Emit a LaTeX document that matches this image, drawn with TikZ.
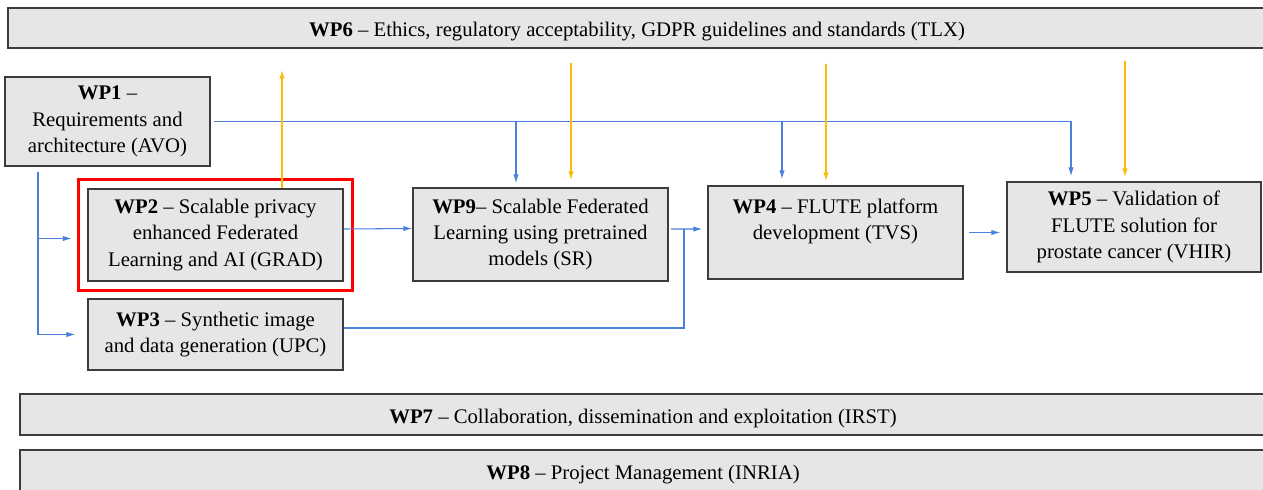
\documentclass[tikz,border=0pt]{standalone}
\usepackage{fontspec}
\setmainfont{Liberation Serif}
\usetikzlibrary{arrows.meta,fit}

\definecolor{boxgray}{RGB}{230,230,230}
\definecolor{boxline}{RGB}{60,60,60}
\definecolor{flowblue}{RGB}{74,128,220}
\definecolor{ethicsyellow}{RGB}{251,188,4}

\tikzset{
  wpbox/.style={draw=boxline,line width=0.9pt,fill=boxgray,align=center,
    inner sep=2pt,font=\fontsize{11.8}{15}\selectfont,
    execute at begin node={\rule{0pt}{12.5pt}}},
  flow/.style={draw=flowblue,line width=0.6pt,-{Latex[length=5pt,width=3pt]}},
  ethics/.style={draw=ethicsyellow,line width=0.7pt,-{Latex[length=5pt,width=3pt]}},
  highlight/.style={draw=red,line width=1.7pt,inner sep=0.18cm}
}

\begin{document}
\begin{tikzpicture}
\useasboundingbox (0,0) rectangle (25.26,-9.78);

% long bands across the page
\node[wpbox,minimum width=25.16cm,minimum height=0.8cm] (wp6) at (12.74,-0.56)
  {\textbf{WP6} -- Ethics, regulatory acceptability, GDPR guidelines and standards (TLX)};
\node[wpbox,minimum width=24.92cm,minimum height=0.82cm] (wp7) at (12.86,-8.29)
  {\textbf{WP7} -- Collaboration, dissemination and exploitation (IRST)};
\node[wpbox,minimum width=24.92cm,minimum height=0.84cm] (wp8) at (12.86,-9.42)
  {\textbf{WP8} -- Project Management (INRIA)};

% work packages
\node[wpbox,minimum width=4.1cm,minimum height=1.78cm] (wp1) at (2.15,-2.43)
  {\textbf{WP1} --\\Requirements and\\architecture (AVO)};
\node[wpbox,minimum width=5.1cm,minimum height=1.84cm] (wp2) at (4.31,-4.70)
  {\textbf{WP2} -- Scalable privacy\\enhanced Federated\\Learning and AI (GRAD)};
\node[wpbox,minimum width=5.1cm,minimum height=1.42cm] (wp3) at (4.31,-6.69)
  {\textbf{WP3} -- Synthetic image\\and data generation (UPC)};
\node[wpbox,minimum width=5.1cm,minimum height=1.86cm] (wp9) at (10.81,-4.69)
  {\textbf{WP9}-- Scalable Federated\\Learning using pretrained\\models (SR)};
\node[wpbox,minimum width=5.1cm,minimum height=1.86cm] (wp4) at (16.71,-4.65)
  {\textbf{WP4} -- FLUTE platform\\development (TVS)\\~};
\node[wpbox,minimum width=5.08cm,minimum height=1.8cm] (wp5) at (22.68,-4.54)
  {\textbf{WP5} -- Validation of\\FLUTE solution for\\prostate cancer (VHIR)};

\node[highlight,fit=(wp2)] (grad) {};

% WP1 feeds everything
\coordinate (wp1 drop) at ([xshift=-1.39cm,yshift=-0.1cm]wp1.south);
\coordinate (to grad) at ([xshift=-0.1cm,yshift=-0.07cm]grad.west);
\draw[flow] (wp1 drop) |- ([xshift=-0.24cm]wp3.west);
\draw[flow] (wp1 drop |- to grad) -- (to grad);
\draw[flow] ([xshift=0.06cm]wp1.east) -| ([xshift=-1.26cm,yshift=0.1cm]wp5.north);
\coordinate (to wp9) at ([xshift=-0.49cm,yshift=0.08cm]wp9.north);
\coordinate (to wp4) at ([xshift=-1.07cm,yshift=0.12cm]wp4.north);
\draw[flow] (to wp9 |- wp1.east) -- (to wp9);
\draw[flow] (to wp4 |- wp1.east) -- (to wp4);

% main chain
\draw[flow] ([yshift=0.12cm]wp2.east) -- ([yshift=0.12cm]wp9.west);
\coordinate (merge) at ([xshift=0.3cm,yshift=0.11cm]wp9.east);
\draw[flow] ([xshift=0.04cm,yshift=0.11cm]wp9.east) -- ([xshift=-0.1cm,yshift=0.07cm]wp4.west);
\draw[flow,-,line width=1.1pt] ([yshift=0.13cm]wp3.east) -| (merge);
\draw[flow,shorten <=0.1cm,shorten >=0.12cm] (wp4.east) -- (wp4.east -| wp5.west);

% ethics links
\coordinate (e2) at ([xshift=1.33cm]wp2.north);
\coordinate (e9) at ([xshift=0.61cm,yshift=0.14cm]wp9.north);
\coordinate (e4) at ([xshift=-0.19cm,yshift=0.08cm]wp4.north);
\coordinate (e5) at ([xshift=-0.18cm,yshift=0.08cm]wp5.north);
\draw[ethics,shorten >=0.42cm] (e2) -- (e2 |- wp6.south);
\draw[ethics,shorten <=0.28cm] (e9 |- wp6.south) -- (e9);
\draw[ethics,shorten <=0.3cm] (e4 |- wp6.south) -- (e4);
\draw[ethics,shorten <=0.24cm] (e5 |- wp6.south) -- (e5);
\end{tikzpicture}
\end{document}
